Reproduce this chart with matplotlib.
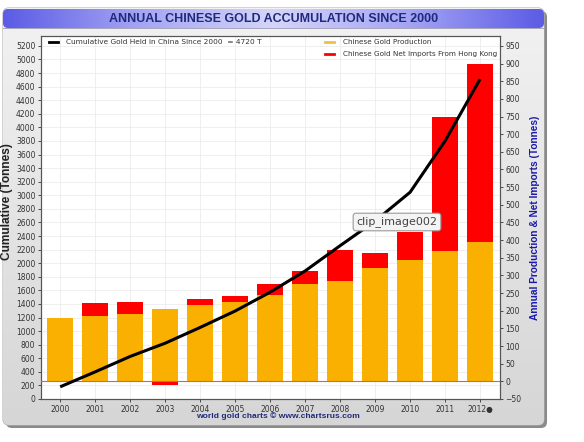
import numpy as np
import matplotlib
matplotlib.use('Agg')
import matplotlib.pyplot as plt
from matplotlib.patches import FancyBboxPatch
from matplotlib.lines import Line2D
from matplotlib.colors import LinearSegmentedColormap

years = ['2000', '2001', '2002', '2003', '2004', '2005', '2006',
         '2007', '2008', '2009', '2010', '2011', '2012●']
production = [180, 185, 192, 206, 216, 224, 245, 275, 285, 321, 344, 370, 396]
imports = [0, 37, 34, -11, 16, 18, 32, 38, 87, 42, 80, 380, 502]
cumulative = [180, 400, 627, 822, 1054, 1296, 1573, 1886, 2258, 2621, 3045, 3800, 4710]

W, H = 584, 442
orange = '#f9b000'
red = '#ff0000'
navy = '#1f2a7c'

fig = plt.figure(figsize=(W / 100, H / 100), dpi=100)
fig.patch.set_facecolor('white')


def fx(px):
    return px / W


def fy(py):
    return 1 - py / H


# outer grey panel with shadow
bg = fig.add_axes([0, 0, 1, 1], zorder=-10)
bg.axis('off')
bg.add_patch(FancyBboxPatch((6, 11), 541, 417, boxstyle='round,pad=0,rounding_size=6',
                            fc='#8a8a8a', ec='none', zorder=0))
panel = FancyBboxPatch((3, 8), 541, 417, boxstyle='round,pad=0,rounding_size=6',
                       fc='#e6e6e6', ec='#b0b0b0', lw=0.8, zorder=1)
bg.add_patch(panel)
grad = np.linspace(0, 1, 100).reshape(-1, 1)
im = bg.imshow(grad, extent=(3, 544, 425, 8), aspect='auto', zorder=2,
               cmap=LinearSegmentedColormap.from_list('g', ['#f2f2f2', '#d6d6d6']))
im.set_clip_path(panel)

# title bar gradient
tb = FancyBboxPatch((3, 9), 541, 19, boxstyle='round,pad=0,rounding_size=5',
                    fc='none', ec='none', zorder=3)
bg.add_patch(tb)
hgrad = np.abs(np.linspace(-1, 1, 200)).reshape(1, -1)
tim = bg.imshow(hgrad, extent=(3, 544, 28, 9), aspect='auto', zorder=4,
                cmap=LinearSegmentedColormap.from_list('b', ['#d4d4fa', '#a4a4f4', '#5c5ce6']))
tim.set_clip_path(tb)
bg.plot([3, 544], [28, 28], color='#9a9ab0', lw=0.6, zorder=5)
bg.set_xlim(0, W)
bg.set_ylim(H, 0)

fig.text(fx(274), fy(18.5), 'ANNUAL CHINESE GOLD ACCUMULATION SINCE 2000',
         ha='center', va='center', fontsize=9, fontweight='bold', color=navy,
         family='Liberation Sans')
fig.text(fx(278), fy(416), 'world gold charts © www.chartsrus.com',
         ha='center', va='center', fontsize=6.1, fontweight='bold', color=navy,
         family='Liberation Sans')

# main axes
rect = [fx(41), fy(399), fx(500) - fx(41), (399 - 36) / H]
ax = fig.add_axes(rect)
ax2 = ax.twinx()
axl = fig.add_axes(rect, sharex=ax, sharey=ax, frameon=False)
axl.axis('off')

x = np.arange(len(years))
ax.set_facecolor('white')
ax.set_ylim(0, 5346)
ax.set_yticks(np.arange(0, 5201, 200))
ax.set_xlim(-0.55, len(years) - 0.43)
ax.set_xticks(x)
ax.set_xticklabels(years)
ax.grid(True, color='#ececec', lw=0.6)
ax.set_axisbelow(True)

ax2.set_ylim(-50, 978)
ax2.set_yticks(np.arange(-50, 951, 50))
ax2.bar(x, production, width=0.73, color=orange, zorder=2)
imp = np.array(imports)
prod = np.array(production)
bottoms = np.where(imp >= 0, prod, 0)
ax2.bar(x, imp, bottom=bottoms, width=0.73, color=red, zorder=2)
ax2.axhline(0, color='#e8603a', lw=0.8, zorder=3)

axl.plot(x, cumulative, color='black', lw=2.2, solid_capstyle='butt')

for a in (ax, ax2):
    a.tick_params(labelsize=5.5, length=2.5, width=0.6, colors='#333333', pad=1.5)
    for s in a.spines.values():
        s.set_color('#555555')
        s.set_linewidth(0.8)

ax.set_ylabel('Cumulative (Tonnes)', fontsize=8.6, fontweight='bold', color='#222222',
              family='Liberation Sans')
ax.yaxis.set_label_coords((13 - 41) / (500 - 41), (399 - 202) / 363)
ax2.set_ylabel('Annual Production & Net Imports (Tonnes)', fontsize=7.3,
               fontweight='bold', color='#1a1aa8', family='Liberation Sans')
ax2.yaxis.set_label_coords((530 - 41) / (500 - 41), 0.5)

# legend
fig.add_artist(Line2D([fx(49), fx(58)], [fy(41.5)] * 2, color='black', lw=2))
fig.add_artist(Line2D([fx(325), fx(334)], [fy(41.5)] * 2, color='#f0c040', lw=2))
fig.add_artist(Line2D([fx(325), fx(334)], [fy(54)] * 2, color=red, lw=2))
fig.text(fx(66), fy(41.5), 'Cumulative Gold Held in China Since 2000  = 4720 T',
         fontsize=5.3, color='#333333', va='center')
fig.text(fx(343), fy(41.5), 'Chinese Gold Production', fontsize=5.2, color='#333333', va='center')
fig.text(fx(343), fy(54), 'Chinese Gold Net Imports From Hong Kong', fontsize=5.2,
         color='#333333', va='center')

# tooltip artifact
fig.text(fx(397), fy(222), 'clip_image002', fontsize=8, color='#444444',
         ha='center', va='center',
         bbox=dict(boxstyle='round,pad=0.3,rounding_size=0.25', fc='#f4f4f4', ec='#9a9a9a', lw=0.8))

fig.savefig('out.png', dpi=100)
